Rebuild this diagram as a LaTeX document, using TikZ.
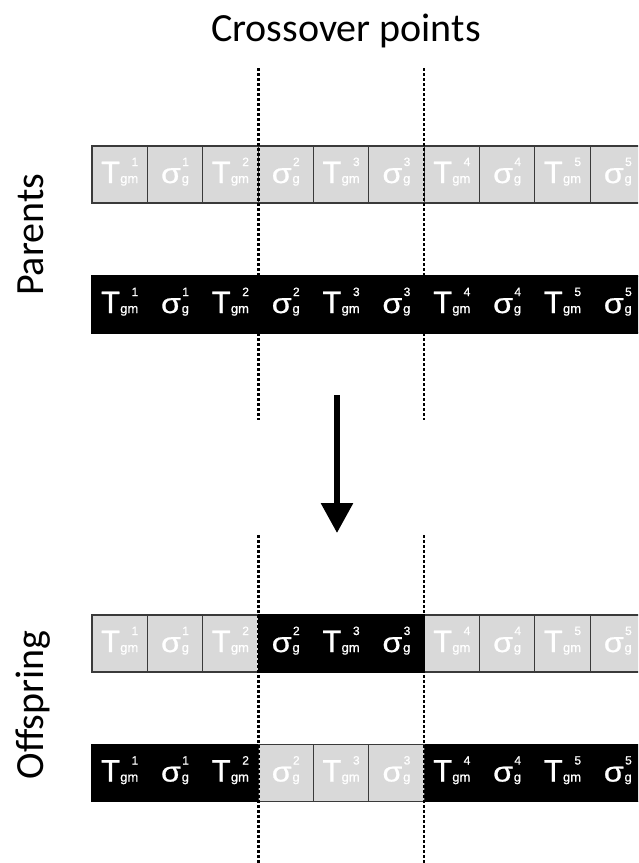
\documentclass[tikz,border=0pt]{standalone}
\usepackage{fontspec}
\setmainfont{Liberation Sans}
\newfontfamily\calfont{Carlito}
\newfontfamily\cellfont{Liberation Sans}[FakeBold=0.8]
\usetikzlibrary{arrows.meta}

\definecolor{cellgray}{RGB}{217,217,217}
\definecolor{cellline}{RGB}{58,58,58}

% gene symbols: large letter, subscript, superscript right-aligned over the subscript
\newcommand\subsup[2]{{\fontsize{13}{13}\selectfont #1}\llap{\raisebox{17pt}{\fontsize{12}{12}\selectfont #2}}}
\newcommand\tsym[1]{{\fontsize{31}{31}\selectfont T}\kern0.2pt\subsup{gm}{#1}}
\newcommand\ssym[1]{\scalebox{1.15}[1]{\fontsize{28}{28}\selectfont σ}\kern0.8pt\subsup{g}{#1}}
\newcommand\genelabel[1]{\ifcase#1\or\tsym{1}\or\ssym{1}\or\tsym{2}\or\ssym{2}\or\tsym{3}\or\ssym{3}\or\tsym{4}\or\ssym{4}\or\tsym{5}\or\ssym{5}\fi}

\begin{document}
\begin{tikzpicture}[x=1pt,y=-1pt,
  cell/.style={rectangle, minimum width=55.35pt, minimum height=57pt, inner sep=0pt,
    text height=20pt, text depth=3pt, text=white, line width=1.1pt, font=\cellfont},
  gcell/.style={cell, fill=cellgray, draw=cellline},
  bcell/.style={cell, fill=black, draw=black},
  crossline/.style={line width=2.1pt, dash pattern=on 3pt off 2pt},
  rowlabel/.style={font=\calfont\fontsize{40}{40}\selectfont, rotate=90, anchor=base}]
\useasboundingbox (0,0) rectangle (638,863);
\clip (0,0) rectangle (638,863);

% title and row labels
\node[font=\calfont\fontsize{40}{40}\selectfont, anchor=base] (title) at (346,41) {Crossover points};
\node[rowlabel] (parents) at (43,235) {Parents};
\node[rowlabel] (offspring) at (43,705) {Offspring};

% parent chromosomes
\foreach \i in {1,...,10}
  \node[gcell] (pa\i) at ({92+55.35*(\i-0.5)},174.5) {\genelabel{\i}};
\foreach \i in {1,...,10}
  \node[bcell] (pb\i) at ({92+55.35*(\i-0.5)},304.5) {\genelabel{\i}};

% offspring chromosomes
\foreach \i in {1,2,3,7,8,9,10}
  \node[gcell] (oa\i) at ({92+55.35*(\i-0.5)},643.5) {\genelabel{\i}};
\foreach \i in {4,5,6}
  \node[bcell] (oa\i) at ({92+55.35*(\i-0.5)},643.5) {\genelabel{\i}};
\foreach \i in {1,2,3,7,8,9,10}
  \node[bcell] (ob\i) at ({92+55.35*(\i-0.5)},773) {\genelabel{\i}};
\foreach \i in {4,5,6}
  \node[gcell] (ob\i) at ({92+55.35*(\i-0.5)},773) {\genelabel{\i}};

% crossover points
\coordinate (xa1) at (258.5,68);  \coordinate (xa2) at (258.5,420);
\coordinate (xa3) at (258.5,535); \coordinate (xa4) at (258.5,863);
\coordinate (xb1) at (424,68);    \coordinate (xb2) at (424,420);
\coordinate (xb3) at (424,535);   \coordinate (xb4) at (424,863);
\draw[crossline] (xa1) -- (xa2);
\draw[crossline] (xa3) -- (xa4);
\draw[crossline] (xb1) -- (xb2);
\draw[crossline] (xb3) -- (xb4);

% arrow from parents to offspring
\coordinate (arrS) at (337,395);
\coordinate (arrE) at (337,533);
\draw[line width=6pt, -{Triangle[width=31pt,length=30pt]}] (arrS) -- (arrE);
\end{tikzpicture}
\end{document}
